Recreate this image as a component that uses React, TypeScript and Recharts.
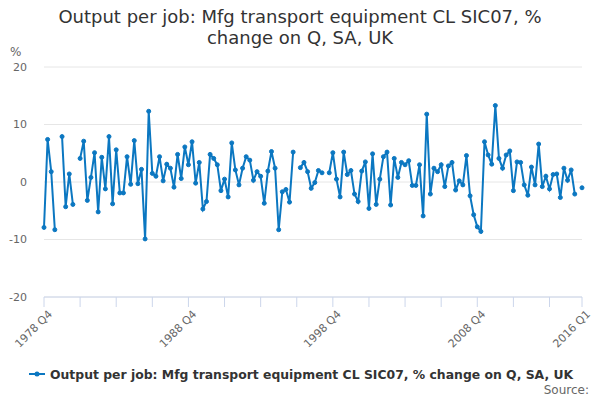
import React from "react";
import { LineChart, Line, XAxis, YAxis, CartesianGrid } from "recharts";

const TITLE_LINES = [
  "Output per job: Mfg transport equipment CL SIC07, %",
  "change on Q, SA, UK",
];
const SERIES_NAME = "Output per job: Mfg transport equipment CL SIC07, % change on Q, SA, UK";

// quarterly, 1978 Q4 .. 2016 Q1 (null = no value published)
const values: (number | null)[] = [
  -7.9, 7.4, 1.8, -8.3, null, 7.9, -4.3, 1.4, -3.9, null,
  4.1, 7.1, -3.2, 0.8, 5.1, -5.2, 4.3, -1.2, 7.9, -3.8,
  5.6, -1.9, -1.9, 4.4, -0.4, 7.2, -0.3, 2.2, -9.9, 12.3,
  1.5, 1.0, 4.4, 0.2, 3.1, 2.4, -0.9, 4.8, 0.6, 6.1,
  3.0, 7.0, -0.2, 3.4, -4.7, -3.4, 4.8, 4.1, 3.0, -1.5,
  0.5, -2.6, 6.8, 2.1, -0.5, 2.4, 4.4, 3.8, 0.3, 1.8,
  1.0, -3.7, 1.9, 5.3, 2.4, -8.3, -1.7, -1.3, -3.5, 5.2,
  null, 2.5, 3.4, 1.8, -1.1, -0.1, 2.0, 1.6, null, 1.6,
  5.1, 0.5, -2.6, 5.2, 1.3, 2.0, -2.1, -3.4, 1.9, 3.5,
  -4.6, 4.9, -3.9, 0.5, 4.4, 5.2, -4.0, 4.1, 0.8, 3.4,
  3.0, 3.7, -0.6, -0.6, 3.0, -5.9, 11.8, -2.1, 2.4, 1.8,
  3.0, -0.8, 2.8, 3.4, -1.4, 0.2, -0.5, 4.6, -2.4, -5.7,
  -7.8, -8.6, 7.0, 4.7, 3.1, 13.3, 4.1, 2.4, 4.7, 5.4,
  -1.5, 3.5, 3.4, -0.5, -2.3, 2.6, -0.5, 6.6, -0.8, 1.0,
  -1.2, 1.3, 1.4, -2.7, 2.4, 0.3, 2.1, -2.1, null, -1.0,
];

const quarters: string[] = values.map((_, i) => {
  const q = 3 + i; // 1978 Q4 is quarter index 3 of 1978
  return `${1978 + Math.floor(q / 4)} Q${(q % 4) + 1}`;
});

const xTicks = [
  "1978 Q4", "1981 Q2", "1983 Q4", "1986 Q2", "1988 Q4", "1991 Q2", "1993 Q4", "1996 Q2",
  "1998 Q4", "2001 Q2", "2003 Q4", "2006 Q2", "2008 Q4", "2011 Q2", "2013 Q4", "2016 Q1",
];
const xLabels = ["1978 Q4", "1988 Q4", "1998 Q4", "2008 Q4", "2016 Q1"];
const yTicks = [-20, -10, 0, 10, 20];

const data = quarters.map((q, i) => ({ q, v: values[i] }));

const FONT = "'DejaVu Sans', Verdana, sans-serif";
const BLUE = "#0b77c1";

function QuarterTick(props: any) {
  const { x, y, payload } = props;
  if (!xLabels.includes(payload.value)) return null;
  return (
    <g transform={`translate(${x + 3},${y})`}>
      <text textAnchor="end" transform="rotate(-45)" dy="0.75em" fill="#666" fontSize={11} fontFamily={FONT}>
        {payload.value}
      </text>
    </g>
  );
}

export default function App() {
  return (
    <div style={{ position: "absolute", left: 0, top: 0, width: 600, height: 400, background: "#fff", fontFamily: FONT }}>
      <div style={{ position: "absolute", left: 0, top: 6, width: 600, textAlign: "center", color: "#333", fontSize: 18, lineHeight: "21px" }}>
        {TITLE_LINES.map(t => <div key={t}>{t}</div>)}
      </div>
      <div style={{ position: "absolute", left: 10, top: 45, color: "#666", fontSize: 12 }}>%</div>

      <LineChart width={600} height={400} data={data} margin={{ top: 67, right: 18, left: 0, bottom: 0 }}>
        <CartesianGrid vertical={false} stroke="#e6e6e6" />
        <XAxis
          dataKey="q"
          ticks={xTicks}
          interval={0}
          height={103}
          tick={<QuarterTick />}
          tickSize={10}
          axisLine={{ stroke: "#ccd6eb" }}
          tickLine={{ stroke: "#ccd6eb" }}
        />
        <YAxis
          domain={[-20, 20]}
          ticks={yTicks}
          width={44}
          axisLine={false}
          tickLine={false}
          tickMargin={11}
          tick={{ fill: "#666", fontSize: 11, fontFamily: FONT }}
        />
        <Line
          dataKey="v"
          stroke={BLUE}
          strokeWidth={2}
          dot={{ r: 2, fill: BLUE, stroke: BLUE, strokeWidth: 1 }}
          connectNulls={false}
          isAnimationActive={false}
        />
      </LineChart>

      <svg style={{ position: "absolute", left: 0, top: 0, pointerEvents: "none" }} width={600} height={400}>
        <line x1={29} x2={45} y1={374} y2={374} stroke={BLUE} strokeWidth={2} />
        <circle cx={37} cy={374} r={2.5} fill={BLUE} />
        <text x={50} y={378.5} fill="#333" fontSize={12.4} fontWeight="bold" fontFamily={FONT}>{SERIES_NAME}</text>
        <text x={589} y={394} textAnchor="end" fill="#666" fontSize={12} fontFamily={FONT}>Source:</text>
      </svg>
    </div>
  );
}
